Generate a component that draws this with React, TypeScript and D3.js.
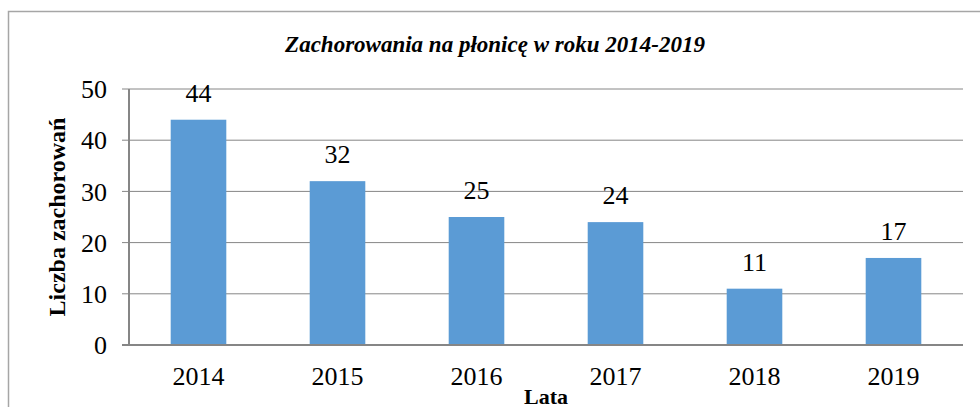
import React from "react";
import * as d3 from "d3";

const years = ["2014", "2015", "2016", "2017", "2018", "2019"];
const cases = [44, 32, 25, 24, 11, 17];
const yTicks = [0, 10, 20, 30, 40, 50];
const title = "Zachorowania na płonicę w roku 2014-2019";
const yTitle = "Liczba zachorowań";
const xTitle = "Lata";

const W = 980;
const H = 407;
const left = 129;
const right = 963;
const top = 89;
const bottom = 345;
const font = "'Liberation Serif', 'Times New Roman', serif";

export default function App() {
  const x = d3.scaleBand<string>().domain(years).range([left, right]).paddingInner(0.6).paddingOuter(0.3);
  const y = d3.scaleLinear().domain([0, 50]).range([bottom, top]);
  return (
    <svg width={W} height={H} style={{ position: "absolute", left: 0, top: 0, background: "#fff" }} fontFamily={font}>
      <rect x={0} y={0} width={W} height={H} fill="#fff" />
      <path d={`M8.5,${H} V11.5 H${W}`} fill="none" stroke="#a6a6a6" strokeWidth={1.5} />
      <text x={495} y={52} textAnchor="middle" fontSize={23} fontWeight="bold" fontStyle="italic">{title}</text>
      {yTicks.map((t) => (
        <g key={t}>
          {t > 0 && <line x1={left} x2={right} y1={y(t)} y2={y(t)} stroke="#868686" strokeWidth={1} />}
          <line x1={left - 7} x2={left} y1={y(t)} y2={y(t)} stroke="#868686" strokeWidth={1} />
          <text x={107} y={y(t)} dy="0.35em" textAnchor="end" fontSize={26}>{t}</text>
        </g>
      ))}
      {years.map((yr, i) => (
        <g key={yr}>
          <rect x={x(yr)} y={y(cases[i])} width={x.bandwidth()} height={y(0) - y(cases[i])} fill="#5b9bd5" />
          <text x={(x(yr) as number) + x.bandwidth() / 2} y={y(cases[i]) - 18} textAnchor="middle" fontSize={26}>{cases[i]}</text>
          <text x={(x(yr) as number) + x.bandwidth() / 2} y={385} textAnchor="middle" fontSize={26}>{yr}</text>
        </g>
      ))}
      <line x1={left} x2={left} y1={top} y2={bottom} stroke="#868686" strokeWidth={2} />
      <line x1={left - 7} x2={right} y1={bottom} y2={bottom} stroke="#868686" strokeWidth={2} />
      <text transform={`translate(65,${(top + bottom) / 2}) rotate(-90)`} textAnchor="middle" fontSize={24} fontWeight="bold">{yTitle}</text>
      <text x={(left + right) / 2} y={404} textAnchor="middle" fontSize={22} fontWeight="bold">{xTitle}</text>
    </svg>
  );
}
